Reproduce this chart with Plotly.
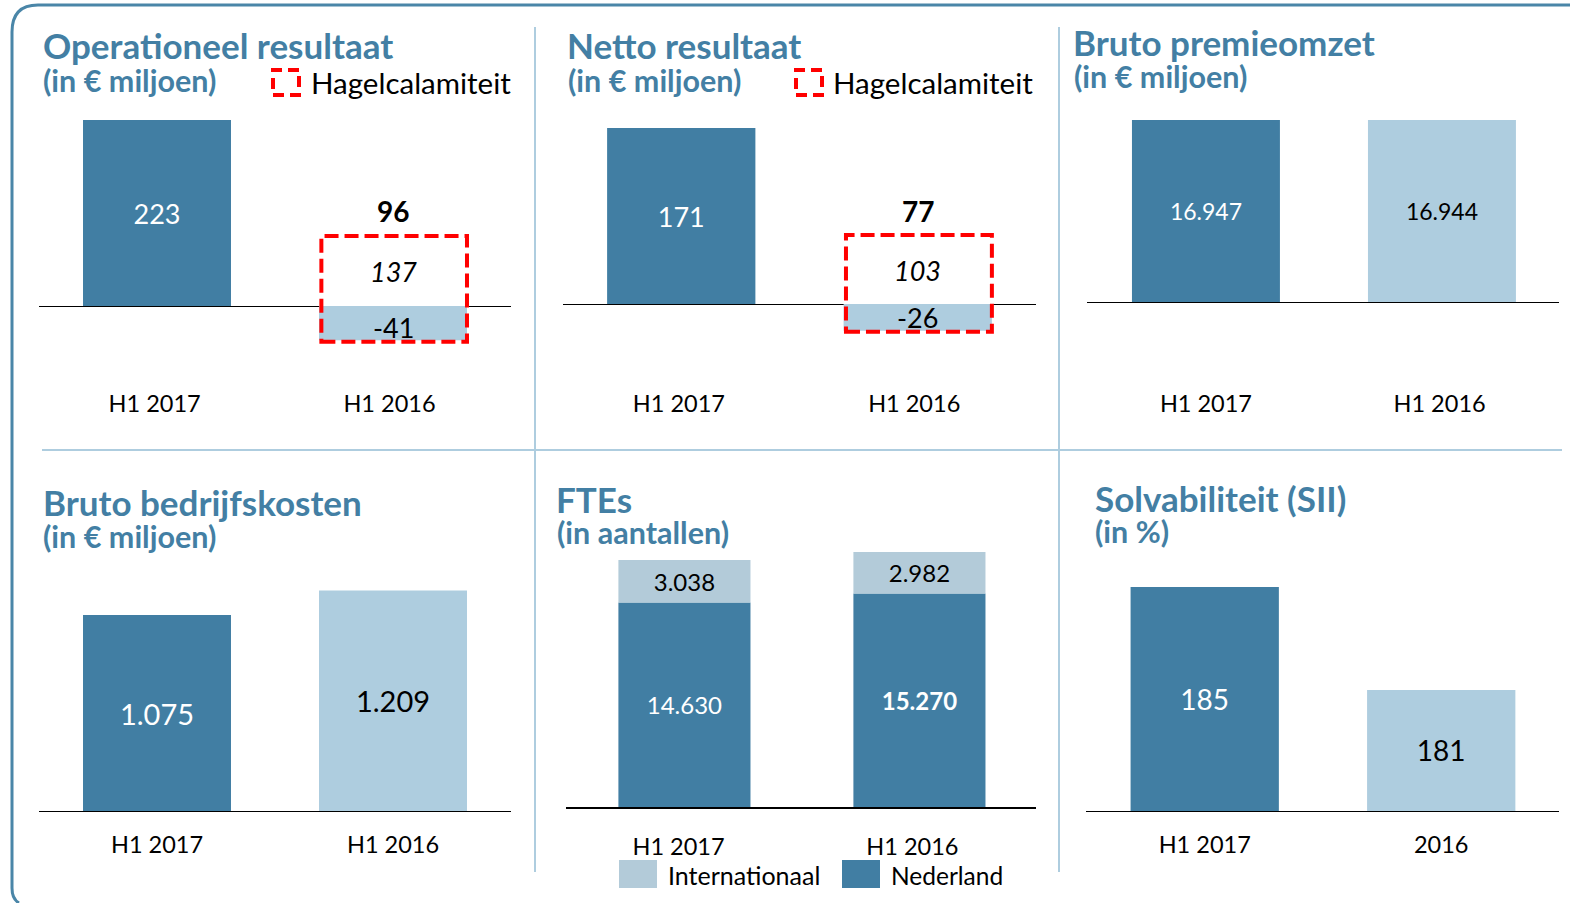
import plotly.graph_objects as go

W, H = 1570, 903
FONT = "Lato"
DARK = "#417EA3"
LIGHT = "#AECDDF"
LIGHT2 = "#B3CBD9"
TITLE = "#437FA4"
RED = "#FF0000"

periods = ["H1 2017", "H1 2016"]
periods_solv = ["H1 2017", "2016"]

operationeel = [223, -41]
operationeel_labels = ["223", ""]
operationeel_negatief = "-41"
operationeel_hagel = 137
operationeel_totaal = 96

netto = [171, -26]
netto_labels = ["171", "-26"]
netto_hagel = 103
netto_totaal = 77

premie = [16947, 16944]
premie_labels = ["16.947", "16.944"]

kosten = [1075, 1209]
kosten_labels = ["1.075", "1.209"]

fte_nl = [14630, 15270]
fte_nl_labels = ["14.630", "15.270"]
fte_int = [3038, 2982]
fte_int_labels = ["3.038", "2.982"]

solv = [185, 181]
solv_labels = ["185", "181"]
solv_axis_start = 176.3


def px(x):
    return x / W


def py(y):
    return 1 - y / H


fig = go.Figure()
annotations = []
shapes = []


def text(x, y, s, size, color="black", anchor="left", bold=False, italic=False, xref="paper", yref="paper"):
    if bold:
        s = f"<b>{s}</b>"
    if italic:
        s = f"<i>{s}</i>"
    annotations.append(dict(x=x, y=y, xref=xref, yref=yref, text=s, showarrow=False,
                            xanchor=anchor, yanchor="middle",
                            font=dict(family=FONT, size=size, color=color)))


def setup_axes(i, left, right, top, bottom, base, units_per_px, y_at_base=0.0, tick_offsets=(0, 0),
               ticks=periods, labels_far=True, standoff=0, line_w=1.0, x_shift=0.0):
    ax = "" if i == 1 else str(i)
    ymin = y_at_base - (bottom - base) * units_per_px
    ymax = y_at_base + (base - top) * units_per_px
    fig.update_layout({
        f"xaxis{ax}": dict(domain=[px(left), px(right)], range=[-0.5 - x_shift, 1.5 - x_shift], anchor=f"y{ax}",
                           tickmode="array", tickvals=[0 + tick_offsets[0], 1 + tick_offsets[1]],
                           ticktext=ticks, showgrid=False, zeroline=False,
                           showline=not labels_far, linecolor="black", linewidth=line_w,
                           ticks="", ticklabelstandoff=standoff,
                           tickfont=dict(family=FONT, size=23.5, color="black")),
        f"yaxis{ax}": dict(domain=[py(bottom), py(top)], range=[ymin, ymax], anchor=f"x{ax}",
                           showticklabels=False, showgrid=False, ticks="", showline=False,
                           zeroline=labels_far, zerolinecolor="black", zerolinewidth=line_w),
    })
    return f"x{ax}", f"y{ax}"


def bars(xa, ya, values, colors, labels, label_colors, size, width=0.627, base=None):
    fig.add_trace(go.Bar(x=[0, 1], y=values, xaxis=xa, yaxis=ya, width=width, base=base,
                         marker=dict(color=colors, line=dict(width=0)),
                         text=labels, textposition="inside", insidetextanchor="middle",
                         textangle=0, constraintext="none",
                         insidetextfont=dict(family=FONT, size=size, color=label_colors),
                         showlegend=False, hoverinfo="skip"))


def hail_box(xa, ya, value_low, top_value, width=0.627):
    shapes.append(dict(type="rect", xref=xa, yref=ya, x0=1 - width / 2 + 0.01, x1=1 + width / 2,
                       y0=value_low, y1=top_value, layer="above",
                       line=dict(color=RED, width=4, dash="14px,6px"), fillcolor="rgba(0,0,0,0)"))


# Panel 1
xa, ya = setup_axes(1, 39, 511, 110, 387, 306, 223 / 186, tick_offsets=(-0.01, -0.015))
bars(xa, ya, operationeel, [DARK, LIGHT], operationeel_labels, ["white", "black"], 27)
hail_box(xa, ya, -43, 84)
text(1, -26, operationeel_negatief, 27, anchor="center", xref=xa, yref=ya)
text(1, 41, operationeel_hagel, 27, italic=True, anchor="center", xref=xa, yref=ya)
text(1, 114, operationeel_totaal, 28, bold=True, anchor="center", xref=xa, yref=ya)

# Panel 2
xa, ya = setup_axes(2, 563, 1036, 110, 387, 304, 171 / 176, tick_offsets=(-0.01, -0.015))
bars(xa, ya, netto, [DARK, LIGHT], netto_labels, ["white", "black"], 27)
hail_box(xa, ya, -27, 67)
text(1, 33, netto_hagel, 27, italic=True, anchor="center", xref=xa, yref=ya)
text(1, 90, netto_totaal, 28, bold=True, anchor="center", xref=xa, yref=ya)

# Panel 3
xa, ya = setup_axes(3, 1087, 1559, 110, 387, 302, 16947 / 182, tick_offsets=(0, -0.01), x_shift=0.004)
bars(xa, ya, premie, [DARK, LIGHT], premie_labels, ["white", "black"], 23)

# Panel 4
xa, ya = setup_axes(4, 39, 511, 561, 811, 811, 1075 / 196, labels_far=False, standoff=13, line_w=1.2)
bars(xa, ya, kosten, [DARK, LIGHT], kosten_labels, ["white", "black"], 29)

# Panel 5
xa, ya = setup_axes(5, 566, 1036, 520, 807, 807, 71.55, tick_offsets=(-0.025, -0.03),
                    labels_far=False, standoff=18, line_w=2, x_shift=0.004)
fig.add_trace(go.Bar(x=[0, 1], y=fte_nl, xaxis=xa, yaxis=ya, width=0.562, showlegend=False, hoverinfo="skip",
                     marker=dict(color=DARK, line=dict(width=0)),
                     text=[fte_nl_labels[0], f"<b>{fte_nl_labels[1]}</b>"], textposition="inside",
                     insidetextanchor="middle", textangle=0, constraintext="none",
                     insidetextfont=dict(family=FONT, size=24, color="white")))
fig.add_trace(go.Bar(x=[0, 1], y=fte_int, xaxis=xa, yaxis=ya, width=0.562, showlegend=False, hoverinfo="skip",
                     marker=dict(color=LIGHT2, line=dict(width=0)),
                     text=fte_int_labels, textposition="inside",
                     insidetextanchor="middle", textangle=0, constraintext="none",
                     insidetextfont=dict(family=FONT, size=24, color="black")))

# Panel 6: the axis does not start at zero
xa, ya = setup_axes(6, 1086, 1559, 561, 811, 811, 4 / 103, y_at_base=solv_axis_start, labels_far=False,
                    standoff=13, ticks=periods_solv, line_w=1.2, x_shift=0.002)
bars(xa, ya, [v - solv_axis_start for v in solv], [DARK, LIGHT], solv_labels, ["white", "black"], 28,
     base=solv_axis_start)

# Titles
for x1, x2, y1, y2, t1, t2 in [
    (40.5, 41, 45, 80, "Operationeel resultaat", "(in € miljoen)"),
    (565, 566, 45, 80, "Netto resultaat", "(in € miljoen)"),
    (1071, 1072, 42, 76, "Bruto premieomzet", "(in € miljoen)"),
    (41, 41, 502, 536, "Bruto bedrijfskosten", "(in € miljoen)"),
    (554, 555, 499, 532, "FTEs", "(in aantallen)"),
    (1093, 1093, 498, 531, "Solvabiliteit (SII)", "(in %)"),
]:
    text(px(x1), py(y1), t1, 35, color=TITLE, bold=True)
    text(px(x2), py(y2), t2, 30.5, color=TITLE, bold=True)

# Hagelcalamiteit legend keys
for x_icon, x_text in [(273, 309), (796, 831)]:
    shapes.append(dict(type="rect", xref="paper", yref="paper", x0=px(x_icon), x1=px(x_icon + 26),
                       y0=py(95), y1=py(70), line=dict(color=RED, width=4, dash="11px,6px")))
    text(px(x_text), py(82), "Hagelcalamiteit", 29.5)

# FTE legend
for x0, color, label, size in [(619, LIGHT2, "Internationaal", 25), (842, DARK, "Nederland", 24.5)]:
    shapes.append(dict(type="rect", xref="paper", yref="paper", x0=px(x0), x1=px(x0 + 38),
                       y0=py(888), y1=py(860), fillcolor=color, line=dict(width=0)))
    text(px(x0 + 47), py(875), label, size)

# Separators
sep = dict(color="#AECDDF", width=2)
for x in [535, 1059]:
    shapes.append(dict(type="line", xref="paper", yref="paper", x0=px(x), x1=px(x), y0=py(27), y1=py(872), line=sep))
shapes.append(dict(type="line", xref="paper", yref="paper", x0=px(42), x1=px(1562), y0=py(450), y1=py(450), line=sep))

# Outer frame
frame = (f"M {px(1570)} {py(5)} L {px(38)} {py(5)} Q {px(12)} {py(5)} {px(12)} {py(32)} "
         f"L {px(12)} {py(888)} Q {px(12)} {py(899)} {px(19)} {py(903)}")
shapes.append(dict(type="path", xref="paper", yref="paper", path=frame, line=dict(color="#4A86A8", width=3)))

fig.update_layout(width=W, height=H, autosize=False, margin=dict(l=0, r=0, t=0, b=0),
                  paper_bgcolor="white", plot_bgcolor="rgba(0,0,0,0)", barmode="relative",
                  showlegend=False, annotations=annotations, shapes=shapes,
                  font=dict(family=FONT))
fig.write_html("out.html", config=dict(displayModeBar=False),
               post_script="document.body.style.margin='0';document.documentElement.style.overflow='hidden';")
